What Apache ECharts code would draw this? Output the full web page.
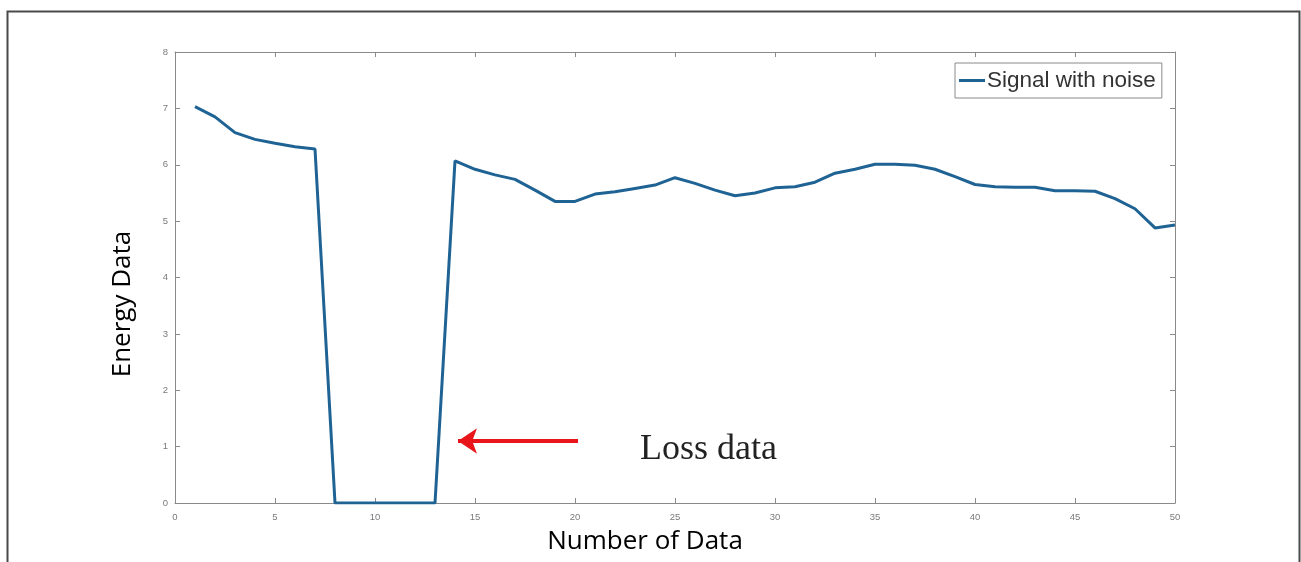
<!DOCTYPE html>
<html>
<head>
<meta charset="utf-8">
<script src="https://cdn.jsdelivr.net/npm/echarts@6/dist/echarts.min.js"></script>
<style>
html,body{margin:0;padding:0;background:#fff;}
#chart{width:1301px;height:562px;}
</style>
</head>
<body>
<div id="chart"></div>
<script>
var xValues = [1,2,3,4,5,6,7,8,9,10,11,12,13,14,15,16,17,18,19,20,21,22,23,24,25,26,27,28,29,30,31,32,33,34,35,36,37,38,39,40,41,42,43,44,45,46,47,48,49,50];
var signalValues = [7.03,6.85,6.57,6.45,6.38,6.32,6.28,0,0,0,0,0,0,6.07,5.92,5.82,5.74,5.55,5.35,5.35,5.48,5.52,5.58,5.64,5.77,5.67,5.55,5.45,5.50,5.59,5.61,5.69,5.85,5.92,6.01,6.01,5.99,5.92,5.79,5.65,5.61,5.60,5.60,5.54,5.54,5.53,5.40,5.22,4.88,4.93];
var seriesName = 'Signal with noise';
var xTitle = 'Number of Data';
var yTitle = 'Energy Data';
var annotationText = 'Loss data';
var arrowStart = [20.15, 1.1];
var arrowEnd = [14.15, 1.1];

var chart = echarts.init(document.getElementById('chart'), null, {renderer:'canvas'});
var points = xValues.map(function(x, i){ return [x, signalValues[i]]; });

function axisLine(){ return {show:true, onZero:false, lineStyle:{color:'#8a8a8a', width:1}}; }
function tick(){ return {show:true, inside:true, length:5, lineStyle:{color:'#8a8a8a', width:1}}; }
var labelStyle = {color:'#7a7a7a', fontSize:9.5, fontFamily:'Liberation Sans'};

var option = {
  animation:false,
  backgroundColor:'#ffffff',
  grid:{left:175, right:126, top:52, bottom:59, containLabel:false},
  legend:{
    show:true,
    left:955, top:63,
    data:[seriesName],
    icon:'rect',
    itemWidth:26, itemHeight:3,
    itemGap:4,
    padding:[6,6,6,4],
    borderColor:'#8a8a8a', borderWidth:1,
    backgroundColor:'#ffffff',
    textStyle:{color:'#333', fontSize:22.5, fontFamily:'Liberation Sans', padding:[0,0,0,-3], lineHeight:22}
  },
  xAxis:[
    {type:'value', min:0, max:50, interval:5, position:'bottom',
     axisLine:axisLine(), axisTick:tick(), splitLine:{show:false},
     axisLabel:Object.assign({margin:9}, labelStyle)},
    {type:'value', min:0, max:50, interval:5, position:'top',
     axisLine:axisLine(), axisTick:tick(), splitLine:{show:false},
     axisLabel:{show:false}}
  ],
  yAxis:[
    {type:'value', min:0, max:8, interval:1, position:'left',
     axisLine:axisLine(), axisTick:tick(), splitLine:{show:false},
     axisLabel:Object.assign({margin:7}, labelStyle)},
    {type:'value', min:0, max:8, interval:1, position:'right',
     axisLine:axisLine(), axisTick:tick(), splitLine:{show:false},
     axisLabel:{show:false}}
  ],
  series:[{
    name:seriesName,
    type:'line',
    xAxisIndex:0, yAxisIndex:0,
    data:points,
    showSymbol:false,
    symbol:'none',
    lineStyle:{color:'#1f6394', width:3},
    itemStyle:{color:'#1f6394'},
    markLine:{
      silent:true,
      symbol:['none','arrow'],
      symbolSize:19,
      label:{show:false},
      lineStyle:{color:'#e8151b', width:4, type:'solid'},
      itemStyle:{color:'#e8151b'},
      data:[[{coord:arrowStart},{coord:arrowEnd}]]
    }
  }],
  graphic:[
    {type:'rect', left:5, top:9, silent:true,
     shape:{x:0, y:0, width:1292, height:600},
     style:{fill:'none', stroke:'#4a4a4a', lineWidth:2}},
    {type:'text', x:640, y:450, silent:true,
     style:{text:annotationText, fontFamily:'Liberation Serif', fontSize:36, fill:'#222', align:'left', verticalAlign:'middle'}},
    {type:'text', x:645, y:542, silent:true,
     style:{text:xTitle, fontFamily:'Open Sans', fontSize:26, fill:'#000', align:'center', verticalAlign:'middle'}},
    {type:'text', x:123, y:304, rotation:Math.PI/2, silent:true,
     style:{text:yTitle, fontFamily:'Open Sans', fontSize:26, fill:'#000', align:'center', verticalAlign:'middle'}}
  ]
};
chart.setOption(option);
</script>
</body>
</html>
